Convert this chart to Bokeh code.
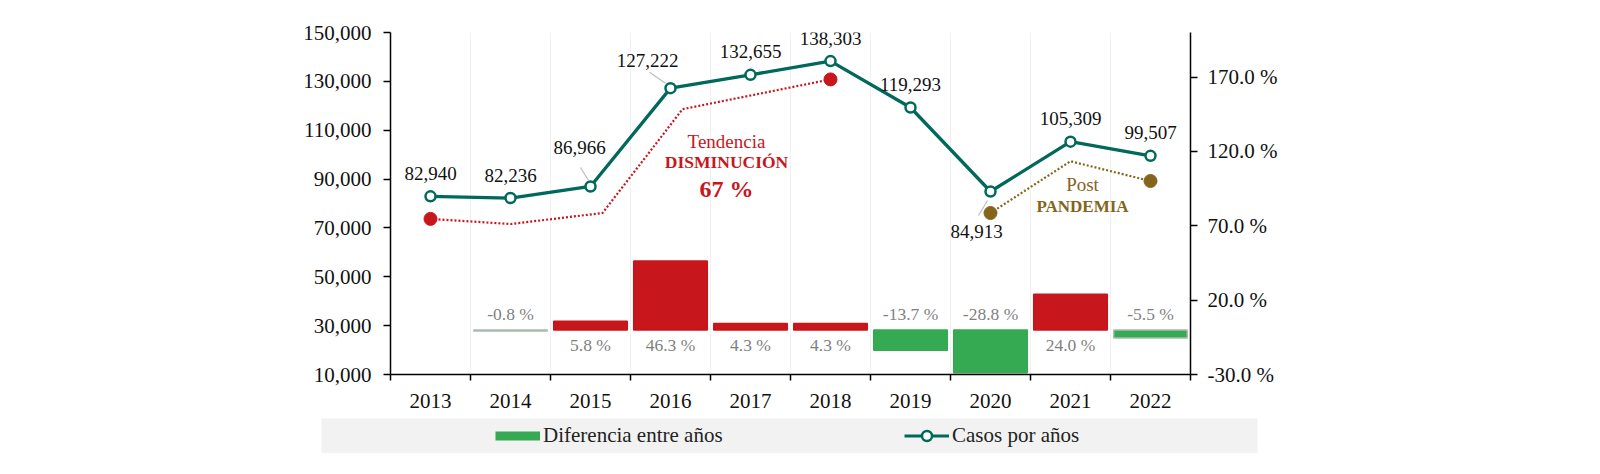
from bokeh.plotting import figure
from bokeh.models import (Range1d, LinearAxis, FixedTicker, NumeralTickFormatter,
                          PrintfTickFormatter, ColumnDataSource, Label, Legend, LegendItem)
from bokeh.layouts import column
from bokeh.embed import file_html
from bokeh.resources import INLINE
from bokeh.core.properties import value

# ---------------- data ----------------
years = [2013, 2014, 2015, 2016, 2017, 2018, 2019, 2020, 2021, 2022]
casos = [82940, 82236, 86966, 127222, 132655, 138303, 119293, 84913, 105309, 99507]
diff_years = [2014, 2015, 2016, 2017, 2018, 2019, 2020, 2021, 2022]
diff_pct = [-0.8, 5.8, 46.3, 4.3, 4.3, -13.7, -28.8, 24.0, -5.5]
trend_x = [2013, 2014, 2015.15, 2016.15, 2018]
trend_y = [73700, 71600, 76100, 118600, 130800]
post_x = [2020, 2021, 2022]
post_y = [76100, 97300, 89200]
left_ticks = [10000, 30000, 50000, 70000, 90000, 110000, 130000, 150000]
right_ticks = [-30, 20, 70, 120, 170]

# ---------------- style ----------------
FONT = "Liberation Serif"
TEAL = "#00695c"
RED = "#c8161d"
GREEN = "#35aa52"
GOLD = "#85641b"
GRAYTXT = "#7f7f7f"
OUTLINE = "#a9bcae"
outlined_years = [2014, 2022]

W = 1592
FRAME_W, FRAME_H = 800, 342
Y0, Y1 = 10000, 150000
PX_X = 10.0 / FRAME_W            # years per pixel
PX_Y = (Y1 - Y0) / FRAME_H       # cases per pixel

p = figure(width=W, height=32 + FRAME_H + 44,
           x_range=Range1d(2012.5, 2022.5), y_range=Range1d(Y0, Y1),
           min_border_left=390, min_border_right=W - 390 - FRAME_W,
           min_border_top=32, min_border_bottom=44,
           toolbar_location=None, output_backend="svg", outline_line_color=None,
           background_fill_color="white", border_fill_color="white")
p.extra_y_ranges = {"pct": Range1d(-30, 200)}

# axes
bounds = [2012.5 + i for i in range(11)]
p.xaxis.ticker = FixedTicker(ticks=years, minor_ticks=bounds)
p.xaxis.formatter = PrintfTickFormatter(format="%d")
p.xaxis.major_tick_out = 0
p.xaxis.major_tick_in = 0
p.xaxis.minor_tick_out = 6
p.xaxis.minor_tick_in = 0
p.xaxis.minor_tick_line_color = "black"
p.xaxis.minor_tick_line_width = 1.5
p.xaxis.major_label_standoff = 13

p.yaxis.ticker = FixedTicker(ticks=left_ticks)
p.yaxis.formatter = NumeralTickFormatter(format="0,0")
p.yaxis.major_label_standoff = 12

ra = LinearAxis(y_range_name="pct", ticker=FixedTicker(ticks=right_ticks),
                formatter=PrintfTickFormatter(format="%.1f %%"))
p.add_layout(ra, "right")
ra.major_label_standoff = 10

for ax in [p.xaxis[0], p.yaxis[0], ra]:
    ax.axis_line_color = "black"
    ax.axis_line_width = 1.5
    ax.major_label_text_font = FONT
    ax.major_label_text_font_size = "21px"
    ax.major_label_text_color = "#111111"
for ax in [p.yaxis[0], ra]:
    ax.major_tick_out = 7
    ax.major_tick_in = 0
    ax.major_tick_line_color = "black"
    ax.major_tick_line_width = 1.5
    ax.minor_tick_line_color = None

p.xgrid.ticker = FixedTicker(ticks=bounds)
p.xgrid.grid_line_color = "#f1f1f1"
p.ygrid.grid_line_color = None

# bars
bar_src = ColumnDataSource(dict(
    x=diff_years, top=diff_pct,
    fill=[RED if v > 0 else GREEN for v in diff_pct],
    line=[OUTLINE if y in outlined_years else (RED if v > 0 else GREEN)
          for y, v in zip(diff_years, diff_pct)],
))
p.vbar(x="x", top="top", bottom=0, width=0.92, source=bar_src, y_range_name="pct",
       fill_color="fill", line_color="line", line_width=1.5)

pos = [(x, v) for x, v in zip(diff_years, diff_pct) if v > 0]
neg = [(x, v) for x, v in zip(diff_years, diff_pct) if v <= 0]
p.text(x=[a for a, _ in pos], y=[0] * len(pos), text=[f"{v:.1f} %" for _, v in pos],
       y_range_name="pct", text_align="center", text_baseline="middle", y_offset=15,
       text_font=value(FONT), text_font_size="17.5px", text_color=GRAYTXT)
p.text(x=[a for a, _ in neg], y=[0] * len(neg), text=[f"{v:.1f} %" for _, v in neg],
       y_range_name="pct", text_align="center", text_baseline="middle", y_offset=-16,
       text_font=value(FONT), text_font_size="17.5px", text_color=GRAYTXT)

# trend lines
p.line(trend_x, trend_y, line_color=RED, line_width=2.2, line_dash="2 2")
p.scatter([trend_x[0], trend_x[-1]], [trend_y[0], trend_y[-1]], size=13,
          fill_color=RED, line_color=RED)
p.line(post_x, post_y, line_color=GOLD, line_width=2.2, line_dash="2 2")
p.scatter([post_x[0], post_x[-1]], [post_y[0], post_y[-1]], size=13,
          fill_color=GOLD, line_color=GOLD)

# main series
p.line(years, casos, line_color=TEAL, line_width=3.3)
p.scatter(years, casos, size=10, fill_color="white", line_color=TEAL, line_width=2.5)

# data labels
special = {2: (-11, -39, (-10, -19), (-2, -6)),
           3: (-23, -28, (-21, -16), (-5, -5)),
           7: (-14, 40, (-3, 9), (-12, 24))}
norm = [i for i in range(len(years)) if i not in special]
p.text(x=[years[i] for i in norm], y=[casos[i] for i in norm],
       text=[f"{casos[i]:,}" for i in norm], text_align="center", text_baseline="middle",
       y_offset=-23, text_font=value(FONT), text_font_size="19px", text_color="#111111")
for i, (dx, dy, a, b) in special.items():
    p.text(x=[years[i]], y=[casos[i]], text=[f"{casos[i]:,}"], text_align="center",
           text_baseline="middle", x_offset=dx, y_offset=dy,
           text_font=value(FONT), text_font_size="19px", text_color="#111111")
    p.segment(x0=[years[i] + a[0] * PX_X], y0=[casos[i] - a[1] * PX_Y],
              x1=[years[i] + b[0] * PX_X], y1=[casos[i] - b[1] * PX_Y],
              line_color="#bdbdbd", line_width=1.2)

# annotations
def lab(x, y, t, size, color, bold=False):
    p.add_layout(Label(x=x, y=y, text=t, text_align="center", text_baseline="middle",
                       text_font=FONT, text_font_size=size, text_color=color,
                       text_font_style="bold" if bold else "normal"))

lab(2016.7, 105400, "Tendencia", "19px", RED)
lab(2016.7, 96800, "DISMINUCIÓN", "17.5px", RED, True)
lab(2016.7, 86100, "67 %", "24px", RED, True)
lab(2021.15, 87800, "Post", "19px", GOLD)
lab(2021.15, 78800, "PANDEMIA", "17px", GOLD, True)

# ---------------- legend strip ----------------
STRIP_L, STRIP_W, STRIP_H = 321, 936, 35
lf = figure(width=W, height=STRIP_H, x_range=Range1d(0, 1), y_range=Range1d(0, 1),
            toolbar_location=None, output_backend="svg", title=None,
            x_axis_location=None, y_axis_location=None,
            min_border_left=STRIP_L, min_border_right=W - STRIP_L - STRIP_W,
            min_border_top=0, min_border_bottom=0,
            background_fill_color="#f2f2f2", border_fill_color="white",
            outline_line_color=None)
lf.grid.visible = False
# keep each plot's own frame (do not align the strip's frame with the chart's frame)
for fig in (p, lf):
    if "frame_align" in fig.properties():
        fig.frame_align = False
# legend samples (their data lie outside the strip's ranges, so only the keys show)
k_bar = lf.line([-10, -9], [-10, -9], line_color=GREEN, line_width=9)
k_line = lf.line([-10, -9], [-10, -9], line_color=TEAL, line_width=3)
k_pt = lf.scatter([-10], [-10], size=10, fill_color="white", line_color=TEAL, line_width=2.5)

lg = Legend(items=[LegendItem(label="Diferencia entre años", renderers=[k_bar]),
                   LegendItem(label="Casos por años", renderers=[k_line, k_pt])],
            location=(174, 5), orientation="horizontal",
            glyph_width=45, glyph_height=25, label_height=25, label_width=187,
            label_standoff=3, spacing=174,
            padding=0, margin=0, background_fill_alpha=0, border_line_color=None,
            label_text_font=FONT, label_text_font_size="21px", label_text_color="#222222")
lf.add_layout(lg)

layout = column(p, lf, spacing=0)
open("out.html", "w").write(file_html(layout, INLINE))
